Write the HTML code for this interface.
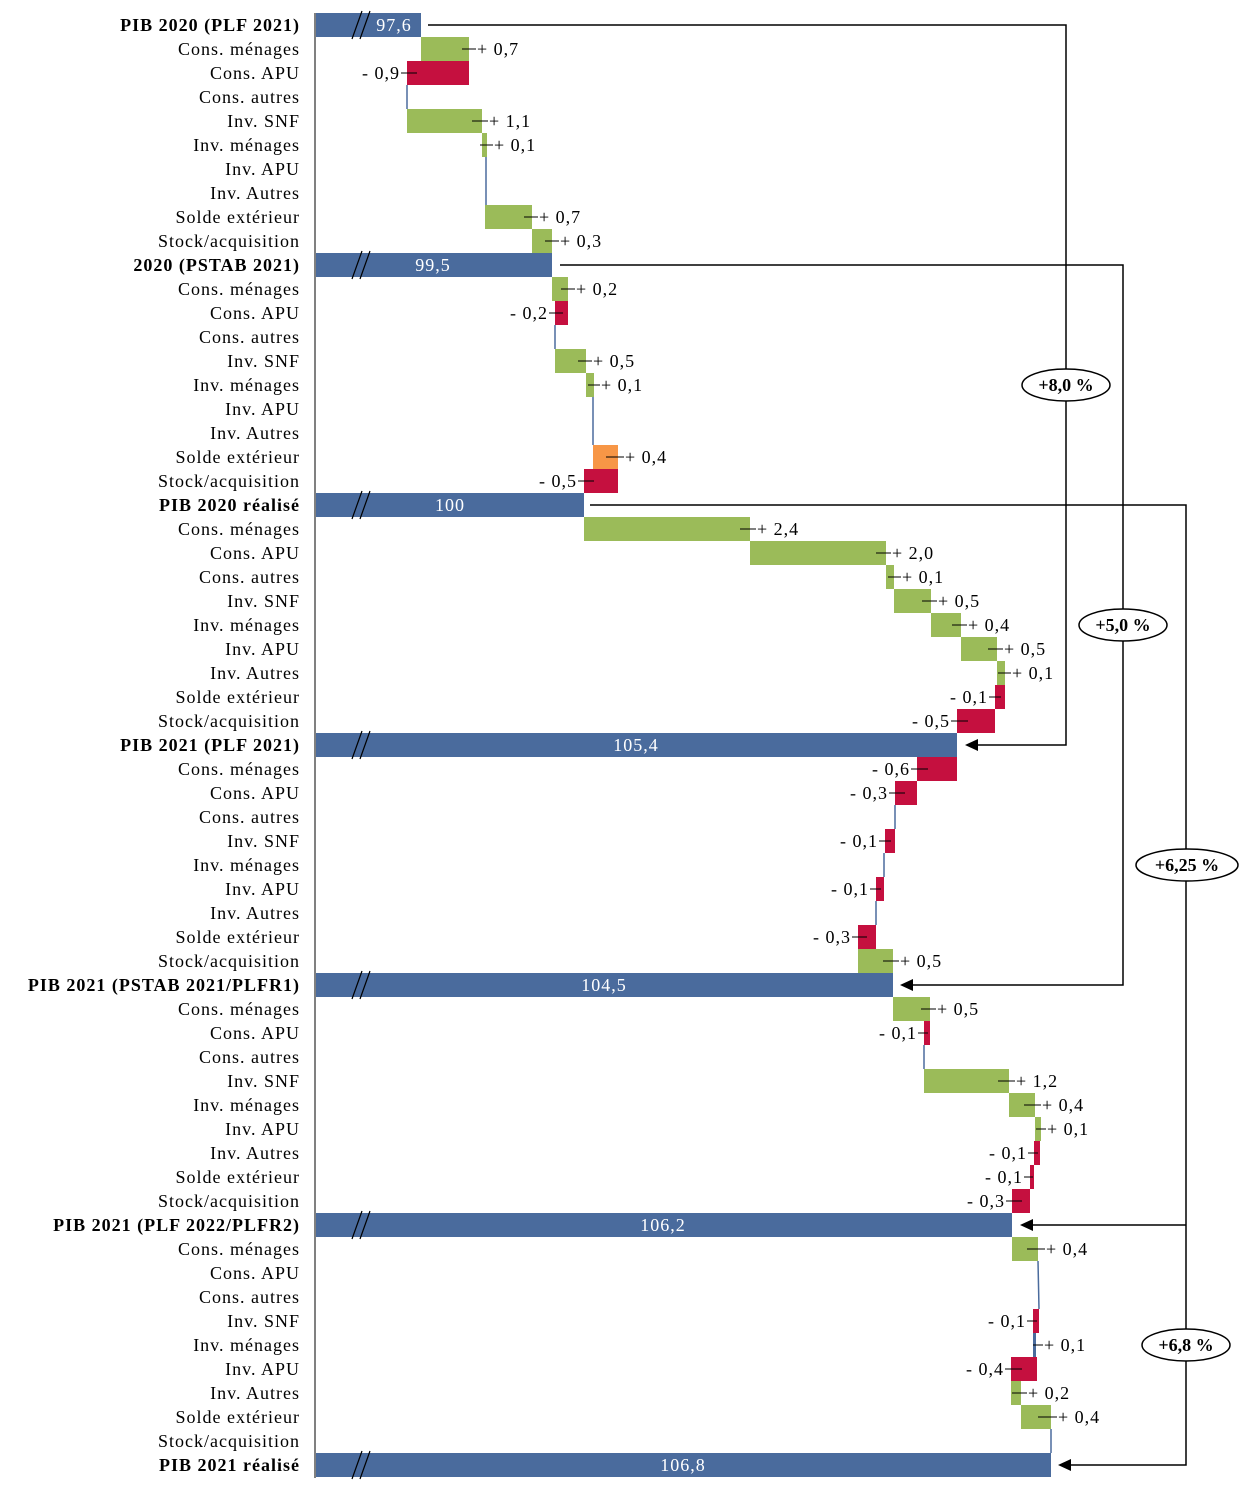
<!DOCTYPE html>
<html><head><meta charset="utf-8"><style>
body{margin:0;background:#fff}
svg{display:block}
text{font-family:"Liberation Serif",serif;font-size:18px;letter-spacing:1px;fill:#000}
.l{text-anchor:end}
.b{font-weight:bold}
.w{fill:#fff;text-anchor:middle}
.g{fill:#9BBB59}.r{fill:#C5103F}.u{fill:#4A6B9D}.o{fill:#F79646}
.t{stroke:#000;stroke-width:1}
.th{stroke:#4A6B9D;stroke-width:1.5}
.c{stroke:#000;stroke-width:1.5;fill:none}
</style></head><body>
<svg width="1239" height="1492" xmlns="http://www.w3.org/2000/svg">
<line x1="315" y1="13" x2="315" y2="1478" stroke="#000" stroke-width="1"/>
<g class="l">
<text x="300" y="31" class="l b">PIB 2020 (PLF 2021)</text>
<text x="300" y="55" class="l">Cons. ménages</text><text x="300" y="79" class="l">Cons. APU</text><text x="300" y="103" class="l">Cons. autres</text><text x="300" y="127" class="l">Inv. SNF</text><text x="300" y="151" class="l">Inv. ménages</text><text x="300" y="175" class="l">Inv. APU</text><text x="300" y="199" class="l">Inv. Autres</text><text x="300" y="223" class="l">Solde extérieur</text><text x="300" y="247" class="l">Stock/acquisition</text>
<text x="300" y="271" class="l b">2020 (PSTAB 2021)</text>
<text x="300" y="295" class="l">Cons. ménages</text><text x="300" y="319" class="l">Cons. APU</text><text x="300" y="343" class="l">Cons. autres</text><text x="300" y="367" class="l">Inv. SNF</text><text x="300" y="391" class="l">Inv. ménages</text><text x="300" y="415" class="l">Inv. APU</text><text x="300" y="439" class="l">Inv. Autres</text><text x="300" y="463" class="l">Solde extérieur</text><text x="300" y="487" class="l">Stock/acquisition</text>
<text x="300" y="511" class="l b">PIB 2020 réalisé</text>
<text x="300" y="535" class="l">Cons. ménages</text><text x="300" y="559" class="l">Cons. APU</text><text x="300" y="583" class="l">Cons. autres</text><text x="300" y="607" class="l">Inv. SNF</text><text x="300" y="631" class="l">Inv. ménages</text><text x="300" y="655" class="l">Inv. APU</text><text x="300" y="679" class="l">Inv. Autres</text><text x="300" y="703" class="l">Solde extérieur</text><text x="300" y="727" class="l">Stock/acquisition</text>
<text x="300" y="751" class="l b">PIB 2021 (PLF 2021)</text>
<text x="300" y="775" class="l">Cons. ménages</text><text x="300" y="799" class="l">Cons. APU</text><text x="300" y="823" class="l">Cons. autres</text><text x="300" y="847" class="l">Inv. SNF</text><text x="300" y="871" class="l">Inv. ménages</text><text x="300" y="895" class="l">Inv. APU</text><text x="300" y="919" class="l">Inv. Autres</text><text x="300" y="943" class="l">Solde extérieur</text><text x="300" y="967" class="l">Stock/acquisition</text>
<text x="300" y="991" class="l b">PIB 2021 (PSTAB 2021/PLFR1)</text>
<text x="300" y="1015" class="l">Cons. ménages</text><text x="300" y="1039" class="l">Cons. APU</text><text x="300" y="1063" class="l">Cons. autres</text><text x="300" y="1087" class="l">Inv. SNF</text><text x="300" y="1111" class="l">Inv. ménages</text><text x="300" y="1135" class="l">Inv. APU</text><text x="300" y="1159" class="l">Inv. Autres</text><text x="300" y="1183" class="l">Solde extérieur</text><text x="300" y="1207" class="l">Stock/acquisition</text>
<text x="300" y="1231" class="l b">PIB 2021 (PLF 2022/PLFR2)</text>
<text x="300" y="1255" class="l">Cons. ménages</text><text x="300" y="1279" class="l">Cons. APU</text><text x="300" y="1303" class="l">Cons. autres</text><text x="300" y="1327" class="l">Inv. SNF</text><text x="300" y="1351" class="l">Inv. ménages</text><text x="300" y="1375" class="l">Inv. APU</text><text x="300" y="1399" class="l">Inv. Autres</text><text x="300" y="1423" class="l">Solde extérieur</text><text x="300" y="1447" class="l">Stock/acquisition</text>
<text x="300" y="1471" class="l b">PIB 2021 réalisé</text>
</g>
<rect class="u" x="316" y="13" width="105" height="24"/><text class="w" x="394" y="31">97,6</text>
<rect class="u" x="316" y="253" width="236" height="24"/><text class="w" x="433" y="271">99,5</text>
<rect class="u" x="316" y="493" width="268" height="24"/><text class="w" x="450" y="511">100</text>
<rect class="u" x="316" y="733" width="641" height="24"/><text class="w" x="636" y="751">105,4</text>
<rect class="u" x="316" y="973" width="577" height="24"/><text class="w" x="604" y="991">104,5</text>
<rect class="u" x="316" y="1213" width="696" height="24"/><text class="w" x="663" y="1231">106,2</text>
<rect class="u" x="316" y="1453" width="735" height="24"/><text class="w" x="683" y="1471">106,8</text>
<g stroke="#000" stroke-width="1.2">
<path d="M352 39L362 11M360 39L370 11"/><path d="M352 279L362 251M360 279L370 251"/><path d="M352 519L362 491M360 519L370 491"/><path d="M352 759L362 731M360 759L370 731"/><path d="M352 999L362 971M360 999L370 971"/><path d="M352 1239L362 1211M360 1239L370 1211"/><path d="M352 1479L362 1451M360 1479L370 1451"/>
</g>
<rect class="g" x="421" y="37" width="48" height="24"/><line class="t" x1="462" y1="49" x2="476" y2="49"/><text x="477" y="55">+ 0,7</text>
<rect class="r" x="407" y="61" width="62" height="24"/><line class="t" x1="401" y1="73" x2="417" y2="73"/><text class="l" x="400" y="79">- 0,9</text>
<line class="th" x1="407" y1="85" x2="407" y2="109"/>
<rect class="g" x="407" y="109" width="75" height="24"/><line class="t" x1="472" y1="121" x2="488" y2="121"/><text x="489" y="127">+ 1,1</text>
<rect class="g" x="482" y="133" width="5" height="24"/><line class="t" x1="480" y1="145" x2="493" y2="145"/><text x="494" y="151">+ 0,1</text>
<line class="th" x1="486" y1="157" x2="486" y2="205"/>
<rect class="g" x="485" y="205" width="47" height="24"/><line class="t" x1="524" y1="217" x2="538" y2="217"/><text x="539" y="223">+ 0,7</text>
<rect class="g" x="532" y="229" width="20" height="24"/><line class="t" x1="545" y1="241" x2="559" y2="241"/><text x="560" y="247">+ 0,3</text>
<rect class="g" x="552" y="277" width="16" height="24"/><line class="t" x1="561" y1="289" x2="575" y2="289"/><text x="576" y="295">+ 0,2</text>
<rect class="r" x="555" y="301" width="13" height="24"/><line class="t" x1="549" y1="313" x2="563" y2="313"/><text class="l" x="548" y="319">- 0,2</text>
<line class="th" x1="555" y1="325" x2="555" y2="349"/>
<rect class="g" x="555" y="349" width="31" height="24"/><line class="t" x1="578" y1="361" x2="592" y2="361"/><text x="593" y="367">+ 0,5</text>
<rect class="g" x="586" y="373" width="8" height="24"/><line class="t" x1="588" y1="385" x2="600" y2="385"/><text x="601" y="391">+ 0,1</text>
<line class="th" x1="593" y1="397" x2="593" y2="445"/>
<rect class="o" x="593" y="445" width="25" height="24"/><line class="t" x1="606" y1="457" x2="624" y2="457"/><text x="625" y="463">+ 0,4</text>
<rect class="r" x="584" y="469" width="34" height="24"/><line class="t" x1="578" y1="481" x2="594" y2="481"/><text class="l" x="577" y="487">- 0,5</text>
<rect class="g" x="584" y="517" width="166" height="24"/><line class="t" x1="740" y1="529" x2="756" y2="529"/><text x="757" y="535">+ 2,4</text>
<rect class="g" x="750" y="541" width="136" height="24"/><line class="t" x1="876" y1="553" x2="891" y2="553"/><text x="892" y="559">+ 2,0</text>
<rect class="g" x="886" y="565" width="8" height="24"/><line class="t" x1="888" y1="577" x2="901" y2="577"/><text x="902" y="583">+ 0,1</text>
<rect class="g" x="894" y="589" width="37" height="24"/><line class="t" x1="922" y1="601" x2="937" y2="601"/><text x="938" y="607">+ 0,5</text>
<rect class="g" x="931" y="613" width="30" height="24"/><line class="t" x1="952" y1="625" x2="967" y2="625"/><text x="968" y="631">+ 0,4</text>
<rect class="g" x="961" y="637" width="36" height="24"/><line class="t" x1="988" y1="649" x2="1003" y2="649"/><text x="1004" y="655">+ 0,5</text>
<rect class="g" x="997" y="661" width="8" height="24"/><line class="t" x1="998" y1="673" x2="1011" y2="673"/><text x="1012" y="679">+ 0,1</text>
<rect class="r" x="995" y="685" width="10" height="24"/><line class="t" x1="989" y1="697" x2="1001" y2="697"/><text class="l" x="988" y="703">- 0,1</text>
<rect class="r" x="957" y="709" width="38" height="24"/><line class="t" x1="951" y1="721" x2="968" y2="721"/><text class="l" x="950" y="727">- 0,5</text>
<rect class="r" x="917" y="757" width="40" height="24"/><line class="t" x1="911" y1="769" x2="928" y2="769"/><text class="l" x="910" y="775">- 0,6</text>
<rect class="r" x="895" y="781" width="22" height="24"/><line class="t" x1="889" y1="793" x2="905" y2="793"/><text class="l" x="888" y="799">- 0,3</text>
<line class="th" x1="895" y1="805" x2="895" y2="829"/>
<rect class="r" x="885" y="829" width="10" height="24"/><line class="t" x1="879" y1="841" x2="891" y2="841"/><text class="l" x="878" y="847">- 0,1</text>
<line class="th" x1="884" y1="853" x2="884" y2="877"/>
<rect class="r" x="876" y="877" width="8" height="24"/><line class="t" x1="870" y1="889" x2="881" y2="889"/><text class="l" x="869" y="895">- 0,1</text>
<line class="th" x1="876" y1="901" x2="876" y2="925"/>
<rect class="r" x="858" y="925" width="18" height="24"/><line class="t" x1="852" y1="937" x2="867" y2="937"/><text class="l" x="851" y="943">- 0,3</text>
<rect class="g" x="858" y="949" width="35" height="24"/><line class="t" x1="883" y1="961" x2="899" y2="961"/><text x="900" y="967">+ 0,5</text>
<rect class="g" x="893" y="997" width="37" height="24"/><line class="t" x1="921" y1="1009" x2="936" y2="1009"/><text x="937" y="1015">+ 0,5</text>
<rect class="r" x="924" y="1021" width="6" height="24"/><line class="t" x1="918" y1="1033" x2="928" y2="1033"/><text class="l" x="917" y="1039">- 0,1</text>
<line class="th" x1="924" y1="1045" x2="924" y2="1069"/>
<rect class="g" x="924" y="1069" width="85" height="24"/><line class="t" x1="998" y1="1081" x2="1015" y2="1081"/><text x="1016" y="1087">+ 1,2</text>
<rect class="g" x="1009" y="1093" width="26" height="24"/><line class="t" x1="1024" y1="1105" x2="1041" y2="1105"/><text x="1042" y="1111">+ 0,4</text>
<rect class="g" x="1035" y="1117" width="6" height="24"/><line class="t" x1="1036" y1="1129" x2="1046" y2="1129"/><text x="1047" y="1135">+ 0,1</text>
<rect class="r" x="1034" y="1141" width="6" height="24"/><line class="t" x1="1028" y1="1153" x2="1038" y2="1153"/><text class="l" x="1027" y="1159">- 0,1</text>
<rect class="r" x="1030" y="1165" width="4" height="24"/><line class="t" x1="1024" y1="1177" x2="1033" y2="1177"/><text class="l" x="1023" y="1183">- 0,1</text>
<rect class="r" x="1012" y="1189" width="18" height="24"/><line class="t" x1="1006" y1="1201" x2="1022" y2="1201"/><text class="l" x="1005" y="1207">- 0,3</text>
<rect class="g" x="1012" y="1237" width="26" height="24"/><line class="t" x1="1027" y1="1249" x2="1045" y2="1249"/><text x="1046" y="1255">+ 0,4</text>
<line class="th" x1="1038" y1="1261" x2="1039" y2="1309"/>
<rect class="r" x="1033" y="1309" width="6" height="24"/><line class="t" x1="1027" y1="1321" x2="1037" y2="1321"/><text class="l" x="1026" y="1327">- 0,1</text>
<rect class="u" x="1033" y="1333" width="3" height="24"/><line class="t" x1="1033" y1="1345" x2="1043" y2="1345"/><text x="1044" y="1351">+ 0,1</text>
<rect class="r" x="1011" y="1357" width="26" height="24"/><line class="t" x1="1005" y1="1369" x2="1022" y2="1369"/><text class="l" x="1004" y="1375">- 0,4</text>
<rect class="g" x="1011" y="1381" width="10" height="24"/><line class="t" x1="1012" y1="1393" x2="1027" y2="1393"/><text x="1028" y="1399">+ 0,2</text>
<rect class="g" x="1021" y="1405" width="30" height="24"/><line class="t" x1="1038" y1="1417" x2="1057" y2="1417"/><text x="1058" y="1423">+ 0,4</text>
<line class="th" x1="1051" y1="1429" x2="1051" y2="1453"/>
<path class="c" d="M428 25H1066V745H975"/><path d="M965 745L978 739V751Z"/>
<path class="c" d="M560 265H1123V985H910"/><path d="M900 985L913 979V991Z"/>
<path class="c" d="M590 505H1186V1465H1068"/><path d="M1058 1465L1071 1459V1471Z"/>
<path class="c" d="M1186 1225H1030"/><path d="M1020 1225L1033 1219V1231Z"/>
<ellipse cx="1066" cy="385" rx="44" ry="16" fill="#fff" stroke="#000" stroke-width="1.5"/><text x="1066" y="391" class="b" text-anchor="middle" style="letter-spacing:0">+8,0 %</text>
<ellipse cx="1123" cy="625" rx="44" ry="16" fill="#fff" stroke="#000" stroke-width="1.5"/><text x="1123" y="631" class="b" text-anchor="middle" style="letter-spacing:0">+5,0 %</text>
<ellipse cx="1187" cy="865" rx="51" ry="16" fill="#fff" stroke="#000" stroke-width="1.5"/><text x="1187" y="871" class="b" text-anchor="middle" style="letter-spacing:0">+6,25 %</text>
<ellipse cx="1186" cy="1345" rx="44" ry="16" fill="#fff" stroke="#000" stroke-width="1.5"/><text x="1186" y="1351" class="b" text-anchor="middle" style="letter-spacing:0">+6,8 %</text>
</svg>
</body></html>
